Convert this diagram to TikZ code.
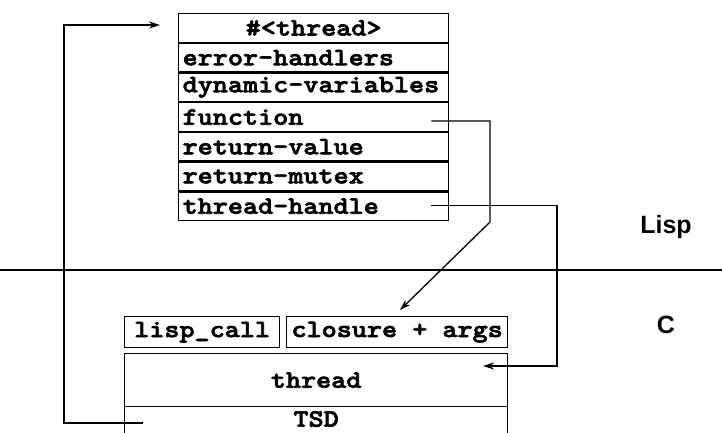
\documentclass[tikz,border=0pt]{standalone}
\usepackage{fontspec}
\setmainfont{Liberation Sans}
\newfontfamily\codefont{Latin Modern Mono Light}[FakeStretch=1.15,FakeBold=2.5]
\usetikzlibrary{arrows.meta,calc}

\begin{document}
\begin{tikzpicture}[x=1pt,y=-1pt,
  line width=1.3pt,
  code/.style={font=\codefont\bfseries\fontsize{25}{25}\selectfont},
  field/.style={code, draw, anchor=north west, inner sep=0pt,
    minimum width=270pt, minimum height=28.6pt},
  lfield/.style={field, text width=262pt, align=left},
  cbox/.style={code, draw, anchor=north west, inner sep=0pt},
  side/.style={font=\bfseries\fontsize{25}{25}\selectfont},
  link/.style={line width=1.3pt},
  tip/.style={-{Stealth[length=11pt,width=7pt]}}
]
\useasboundingbox (0,0) rectangle (722,432);

% Lisp thread object: one box per slot
\node[field]  (hdr) at (178,13.0)  {\#<thread>};
\node[lfield] (eh)  at (178,42.7)  {error-handlers};
\node[lfield] (dv)  at (178,72.4)  {dynamic-variables};
\node[lfield] (fn)  at (178,102.1) {function};
\node[lfield] (rv)  at (178,131.8) {return-value};
\node[lfield] (rm)  at (178,161.5) {return-mutex};
\node[lfield] (th)  at (178,191.2) {thread-handle};

% boundary between the Lisp and C worlds
\draw[line width=1.8pt] (0,270) -- (722,270);
\node[side] (lisp) at (666,227) {Lisp};
\node[side] (c)    at (666,325) {C};

% C side structures
\node[cbox, minimum width=155pt, minimum height=31pt] (lc) at (124,316) {lisp\_call};
\node[cbox, minimum width=221pt, minimum height=31pt] (ca) at (286,316) {closure + args};
\node[cbox, minimum width=383pt, minimum height=53pt] (thr) at (124,353) {thread};
\node[cbox, minimum width=383pt, minimum height=36pt, anchor=north west] (tsd) at (124,406) {};
\node[code, inner sep=0pt] (tsdlbl) at ($(tsd.north)+(0,13)$) {TSD};

% connector end points
\coordinate (fnout)  at ($(fn.east)+(-18,4)$);
\coordinate (fnturn) at (490,222);
\coordinate (fnin)   at (400,310);
\coordinate (thout)  at ($(th.east)+(-18,-1)$);
\coordinate (thin)   at (483,366);
\coordinate (tsdout) at (143,423);
\coordinate (hdrin)  at (160,25);

% function slot -> closure + args
\draw[link,tip] (fnout) -| (fnturn) -- (fnin);
% thread-handle slot -> native thread
\draw[link,tip] (thout) -| (557,366) -- (thin);
% TSD -> Lisp thread object
\draw[link,tip] (tsdout) -| (64,25) -- (hdrin);
\end{tikzpicture}
\end{document}
